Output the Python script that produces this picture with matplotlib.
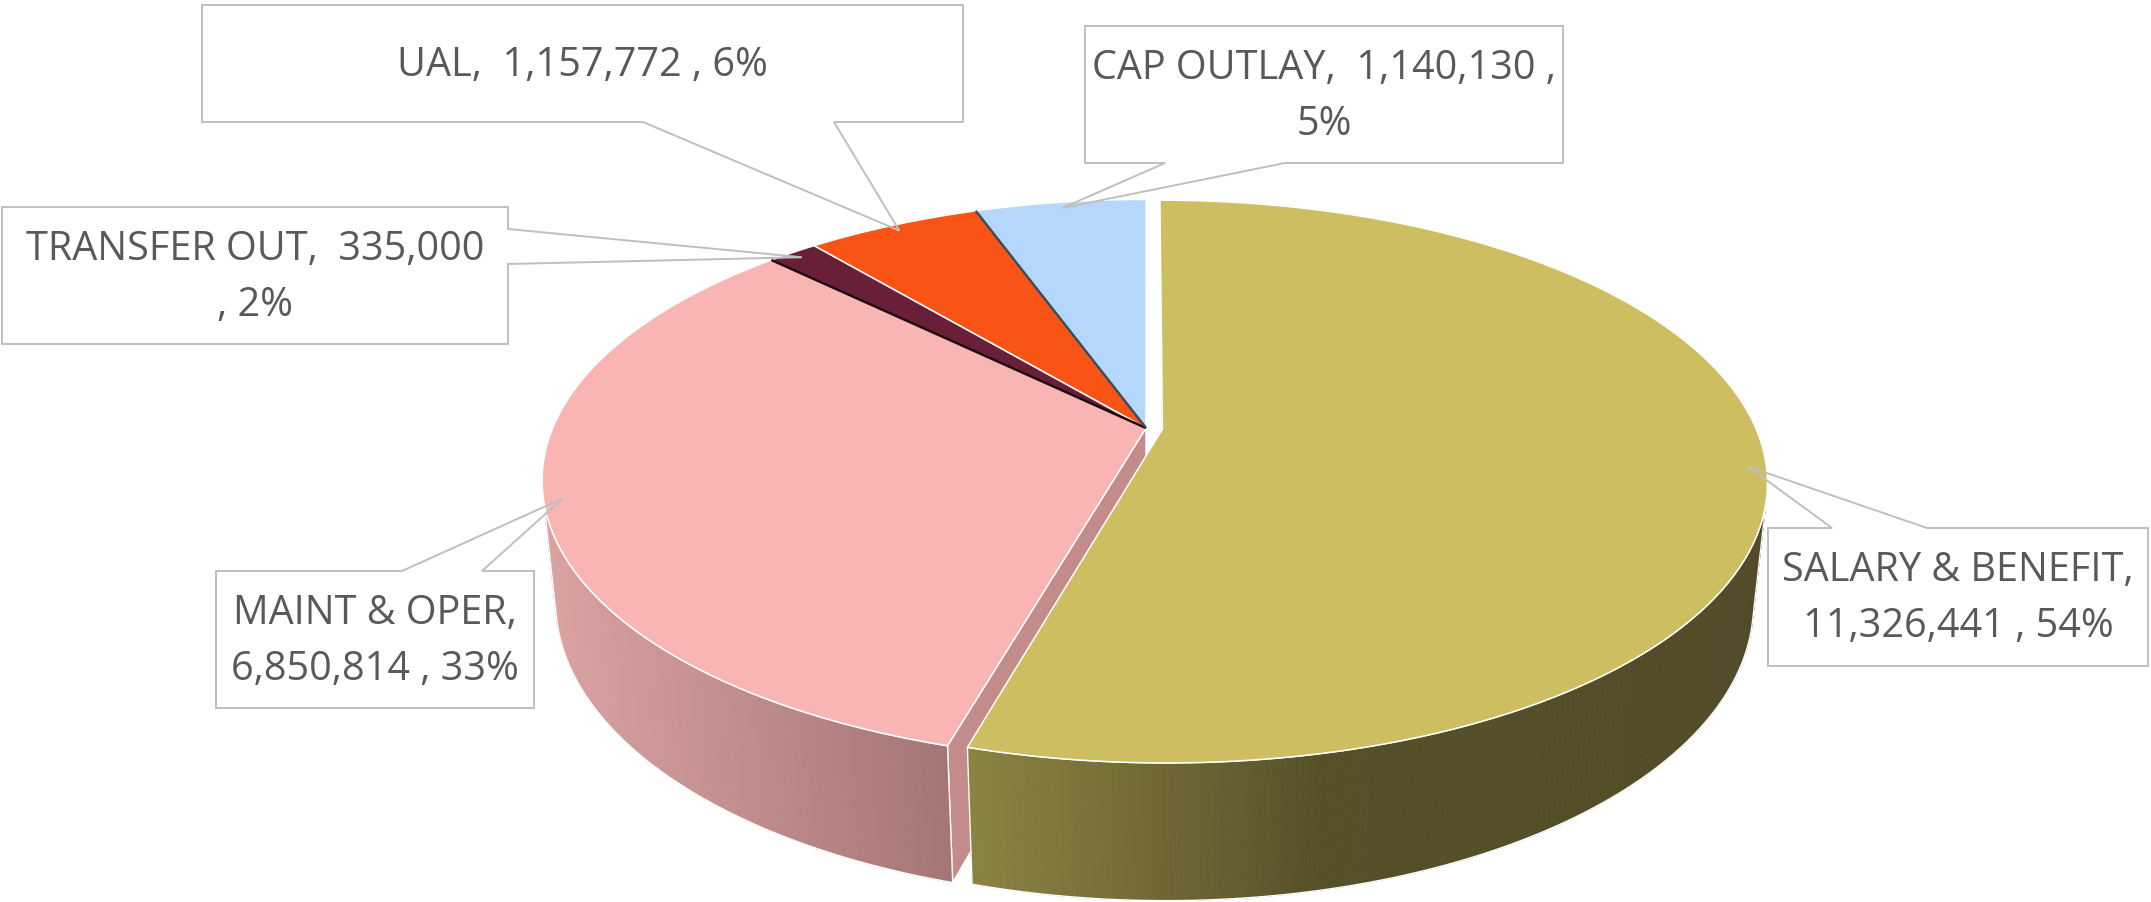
import numpy as np
import matplotlib
matplotlib.use('Agg')
import matplotlib.pyplot as plt
from matplotlib.patches import Polygon
from matplotlib.colors import to_rgb

# ---------------- data ----------------
categories = ['SALARY & BENEFIT', 'MAINT & OPER', 'TRANSFER OUT', 'UAL', 'CAP OUTLAY']
values = [11326441, 6850814, 335000, 1157772, 1140130]

# ---------------- style ----------------
plt.rcParams['font.family'] = ['Open Sans', 'DejaVu Sans']
top_colors = ['#CEBE62', '#F9B4B4', '#6A1F38', '#FA5316', '#B5D7FB']
wall_stops = [
    [(0.0, '#8C8442'), (0.45, '#565029'), (1.0, '#514B28')],
    [(0.0, '#DBA2A2'), (1.0, '#A57575')],
    [(0.0, '#4A1527'), (1.0, '#4A1527')],
    [(0.0, '#C9420F'), (1.0, '#C9420F')],
    [(0.0, '#91ACC9'), (1.0, '#91ACC9')],
]
cut_colors = ['#A89B4E', '#C48B8B', '#1E0509', '#B03A0E', '#3D4B57']
boundary_line = [None, None, '#1E0509', None, '#3D4B57']
explode = [0.028, 0, 0, 0, 0]
label_wrap = ['name', 'name', 'pct', None, 'last']
label_boxes = [(1768, 528, 2148, 666), (216, 571, 534, 708), (2, 207, 508, 344),
               (202, 5, 963, 122), (1085, 26, 1563, 163)]
pointer_base = [('top', 1832, 1927), ('top', 402, 482), ('right', 229, 264),
                ('bottom', 643, 834), ('bottom', 1165, 1285)]
TEXT_COLOR = '#595959'
BOX_EDGE = '#BFBFBF'
FONT_SIZE = 28.5

# 3D view parameters (pixel space)
ELEV = np.radians(27.2)
DIST = 4.77
SCALE = 2830.0
CX, CY = 1146.0, 428.0
THICK = 0.232
S_E, C_E = np.sin(ELEV), np.cos(ELEV)
CAM = np.array([0.0, -DIST * C_E, DIST * S_E])


def proj(x, y, z):
    w = DIST + y * C_E - z * S_E
    sx = SCALE * x / w
    sy = SCALE * (y * S_E + z * C_E) / w
    return CX + sx, CY - sy


def depth(x, y, z):
    return DIST + y * C_E - z * S_E


def grad_color(stops, f):
    f = min(max(f, 0.0), 1.0)
    for (f0, c0), (f1, c1) in zip(stops[:-1], stops[1:]):
        if f <= f1:
            a = 0 if f1 == f0 else (f - f0) / (f1 - f0)
            c0, c1 = np.array(to_rgb(c0)), np.array(to_rgb(c1))
            return tuple(c0 + (c1 - c0) * a)
    return to_rgb(stops[-1][1])


total = float(sum(values))
fracs = [v / total for v in values]
pcts = [int(round(f * 100)) for f in fracs]
cum = np.concatenate([[0], np.cumsum(fracs)])
th_start = [90 - cum[i] * 360 for i in range(len(values))]
th_end = [90 - cum[i + 1] * 360 for i in range(len(values))]
th_mid = [(a + b) / 2 for a, b in zip(th_start, th_end)]
offsets = [(e * np.cos(np.radians(m)), e * np.sin(np.radians(m))) for e, m in zip(explode, th_mid)]

fig = plt.figure(figsize=(21.51, 9.02), dpi=100)
ax = fig.add_axes([0, 0, 1, 1])
ax.set_xlim(0, 2151)
ax.set_ylim(902, 0)
ax.axis('off')

# ---- radial cut faces ----
faces = []
for i in range(len(values)):
    ox, oy = offsets[i]
    for a_deg, sign in ((th_start[i], 1), (th_end[i], -1)):
        a = np.radians(a_deg)
        n = np.array([-np.sin(a), np.cos(a), 0.0]) * sign
        p = np.array([ox + 0.5 * np.cos(a), oy + 0.5 * np.sin(a), -THICK / 2])
        if np.dot(CAM - p, n) > 1e-6:
            pts = [proj(ox, oy, 0), proj(ox + np.cos(a), oy + np.sin(a), 0),
                   proj(ox + np.cos(a), oy + np.sin(a), -THICK), proj(ox, oy, -THICK)]
            faces.append((depth(*p), pts, cut_colors[i]))
faces.sort(key=lambda t: -t[0])
for _, pts, col in faces:
    ax.add_patch(Polygon(pts, closed=True, facecolor=col, edgecolor='white', lw=1.0, zorder=1))

# ---- outer walls ----
for i in range(len(values)):
    ox, oy = offsets[i]
    tt = np.radians(np.linspace(th_end[i], th_start[i], 3000))
    vis = -DIST * C_E * np.sin(tt) - ox * np.cos(tt) - oy * np.sin(tt) - 1 > 0
    if not vis.any():
        continue
    t0, t1 = tt[vis].min(), tt[vis].max()
    ts = np.linspace(t0, t1, 160)
    top = [proj(ox + np.cos(t), oy + np.sin(t), 0) for t in ts]
    bot = [proj(ox + np.cos(t), oy + np.sin(t), -THICK) for t in ts]
    xs = [p[0] for p in top]
    xmin, xmax = min(xs), max(xs)
    for k in range(len(ts) - 1):
        quad = [top[k], top[k + 1], bot[k + 1], bot[k]]
        xm = (top[k][0] + top[k + 1][0]) / 2
        col = grad_color(wall_stops[i], (xm - xmin) / max(xmax - xmin, 1e-9))
        ax.add_patch(Polygon(quad, closed=True, facecolor=col, edgecolor=col, lw=0.6, zorder=2))
    ax.add_patch(Polygon(top + bot[::-1], closed=True, facecolor='none',
                         edgecolor='white', lw=1.0, zorder=2.5))

# ---- top faces ----
for i in range(len(values)):
    ox, oy = offsets[i]
    ts = np.radians(np.linspace(th_end[i], th_start[i], 200))
    pts = [proj(ox, oy, 0)] + [proj(ox + np.cos(t), oy + np.sin(t), 0) for t in ts]
    ax.add_patch(Polygon(pts, closed=True, facecolor=top_colors[i], edgecolor='white',
                         lw=1.1, zorder=3))

# dark slivers of radial faces seen between slices
for i in range(len(values)):
    if boundary_line[i] is None:
        continue
    ox, oy = offsets[i]
    a = np.radians(th_start[i])
    p0 = proj(ox, oy, 0)
    p1 = proj(ox + np.cos(a), oy + np.sin(a), 0)
    ax.plot([p0[0], p1[0]], [p0[1], p1[1]], color=boundary_line[i], lw=1.8,
            solid_capstyle='butt', zorder=4)


# ---- callout labels ----
def make_label(name, val, pct, wrap):
    a, b, c = f"{name},", f"{val:,}", f"{pct}%"
    if wrap == 'name':
        return f"{a}\n{b} , {c}"
    if wrap == 'pct':
        return f"{a}  {b}\n, {c}"
    if wrap == 'last':
        return f"{a}  {b} ,\n{c}"
    return f"{a}  {b} , {c}"


for i in range(len(values)):
    ox, oy = offsets[i]
    m = np.radians(th_mid[i])
    tip = proj(ox + 0.97 * np.cos(m), oy + 0.97 * np.sin(m), 0)
    x0, y0, x1, y1 = label_boxes[i]
    side, b0, b1 = pointer_base[i]
    if side == 'top':
        verts = [(x0, y0), (b0, y0), tip, (b1, y0), (x1, y0), (x1, y1), (x0, y1)]
    elif side == 'right':
        verts = [(x0, y0), (x1, y0), (x1, b0), tip, (x1, b1), (x1, y1), (x0, y1)]
    else:
        verts = [(x0, y0), (x1, y0), (x1, y1), (b1, y1), tip, (b0, y1), (x0, y1)]
    ax.add_patch(Polygon(verts, closed=True, facecolor='none', edgecolor=BOX_EDGE,
                         lw=1.4, zorder=5, joinstyle='miter'))
    ax.text((x0 + x1) / 2, (y0 + y1) / 2 + 2, make_label(categories[i], values[i], pcts[i], label_wrap[i]),
            ha='center', va='center', fontsize=FONT_SIZE, color=TEXT_COLOR, linespacing=1.5, zorder=6)

fig.savefig('out.png', dpi=100, facecolor='white')
